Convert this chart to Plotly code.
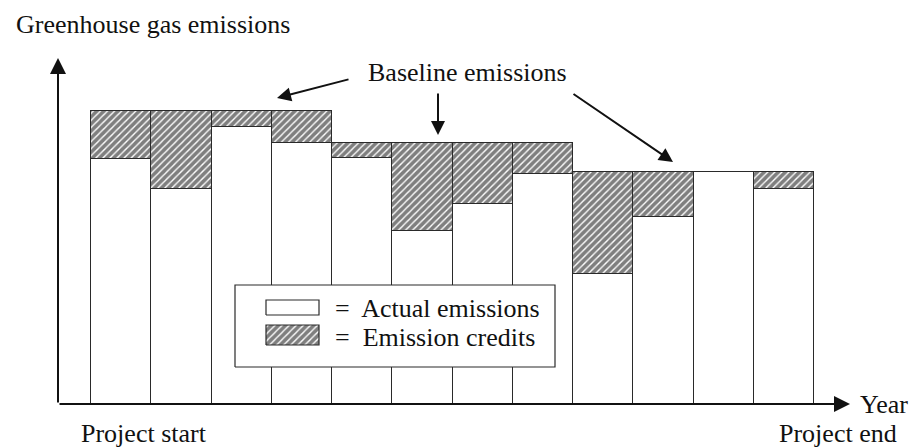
import plotly.graph_objects as go

# ---- data (arbitrary emission units) ----
years = list(range(1, 13))
baseline = [293, 293, 293, 293, 261, 261, 261, 261, 232, 232, 232, 232]
actual = [245, 215, 277, 261, 246, 173, 200, 230, 130, 187, 232, 215]
credits = [b - a for b, a in zip(baseline, actual)]

FONT = "Liberation Serif"
FS = 26

# page has an 8px body margin: figure is shrunk and all positions shifted
OFF = 8
WIN_W, WIN_H = 917, 447
W, H = WIN_W - OFF, WIN_H - OFF
PL, PR, PT, PB = 58, 850, 58, 404          # plot area in window pixels
L, R, T, B = PL - OFF, WIN_W - PR, PT - OFF, WIN_H - PB
XR = [-0.0477, 13.097]
YR = [0, 346]


def px2x(px):
    return XR[0] + (px - PL) / (PR - PL) * (XR[1] - XR[0])


def py2y(py):
    return YR[0] + (PB - py) / (PB - PT) * (YR[1] - YR[0])


def pxp(px):
    return (px - PL) / (PR - PL)


def pyp(py):
    return (PB - py) / (PB - PT)


HATCH = dict(shape="/", fgcolor="black", bgcolor="white", size=5, solidity=0.72)
EDGE = dict(color="#2a2a2a", width=1.2)

fig = go.Figure()

fig.add_trace(go.Bar(
    x=years, y=actual, width=1,
    marker=dict(color="white", line=EDGE),
    name="Actual emissions", hoverinfo="skip"))

fig.add_trace(go.Bar(
    x=years, y=credits, width=1,
    marker=dict(color="white", line=EDGE, pattern=HATCH),
    name="Emission credits", hoverinfo="skip"))

# legend box
bx0, bx1, by0, by1 = px2x(235), px2x(555), py2y(367), py2y(285)
fig.add_trace(go.Scatter(
    x=[bx0, bx1, bx1, bx0, bx0], y=[by0, by0, by1, by1, by0],
    mode="lines", fill="toself", fillcolor="white",
    line=EDGE, hoverinfo="skip"))

# legend swatches
sx0, sx1 = px2x(266), px2x(319)
fig.add_trace(go.Scatter(
    x=[sx0, sx1, sx1, sx0, sx0],
    y=[py2y(315), py2y(315), py2y(300), py2y(300), py2y(315)],
    mode="lines", fill="toself", fillcolor="white",
    line=EDGE, hoverinfo="skip"))
fig.add_trace(go.Scatter(
    x=[sx0, sx1, sx1, sx0, sx0],
    y=[py2y(345), py2y(345), py2y(325), py2y(325), py2y(345)],
    mode="lines", fill="toself", fillcolor="white",
    fillpattern=HATCH, line=EDGE, hoverinfo="skip"))

annotations = []


def text(t, px, py, anchor="left"):
    annotations.append(dict(
        text=t, xref="paper", yref="paper", x=pxp(px), y=pyp(py),
        xanchor=anchor, yanchor="middle", showarrow=False,
        font=dict(family=FONT, size=FS, color="#111")))


text("Greenhouse gas emissions", 14, 25)
text("Baseline emissions", 366, 73)
text("=  Actual emissions", 333, 308)
text("=  Emission credits", 333, 337)
text("Year", 858, 404)
text("Project start", 79, 434)
text("Project end", 777, 434)


def arrow(hx, hy, tx, ty, width=2, size=1.2):
    annotations.append(dict(
        text="", xref="paper", yref="paper", x=pxp(hx), y=pyp(hy),
        ax=tx - hx, ay=ty - hy, showarrow=True,
        arrowhead=2, arrowsize=size, arrowwidth=width, arrowcolor="#111",
        standoff=0))


# axes
arrow(58, 58, 58, 404, width=2, size=1.6)
arrow(850, 404, 58, 404, width=2, size=1.6)
# baseline pointers
arrow(277, 98, 350, 79, width=2, size=1.4)
arrow(438, 135, 438, 92, width=2, size=1.4)
arrow(673, 162, 572, 93, width=2, size=1.4)

fig.update_layout(
    width=W, height=H,
    margin=dict(l=L, r=R, t=T, b=B, pad=0),
    barmode="stack", bargap=0,
    showlegend=False,
    plot_bgcolor="white", paper_bgcolor="white",
    xaxis=dict(range=XR, visible=False, fixedrange=True),
    yaxis=dict(range=YR, visible=False, fixedrange=True),
    annotations=annotations,
)

fig.write_html("out.html")
